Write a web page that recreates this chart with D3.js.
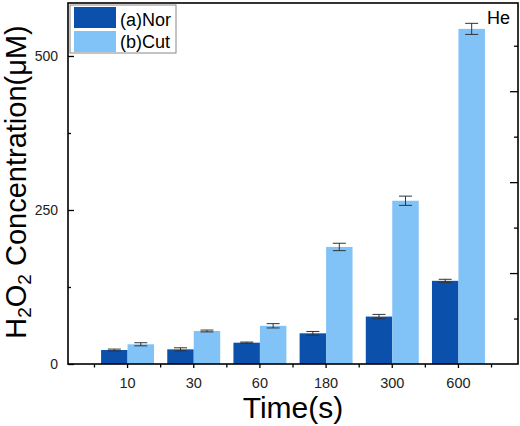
<!DOCTYPE html>
<html>
<head>
<meta charset="utf-8">
<script src="https://cdn.jsdelivr.net/npm/d3@7"></script>
<style>
  body { margin: 0; background: #fff; }
  text { font-family: "Liberation Sans", Arial, sans-serif; }
</style>
</head>
<body>
<div id="chart"></div>
<script>
// data
const times = ["10", "30", "60", "180", "300", "600"];
const norValues = [22.7, 23.8, 34.6, 49.8, 77, 135];
const norErrors = [1.5, 2.5, 1, 3, 3.5, 2.5];
const cutValues = [32, 53.6, 62, 190, 265, 544];
const cutErrors = [2.5, 1.5, 3.5, 6, 7.5, 9];
const seriesNames = ["(a)Nor", "(b)Cut"];
const yTicks = [0, 250, 500];
const yMinorTicks = [125, 375];

const width = 520, height = 426;
const margin = {top: 3, right: 2, bottom: 62, left: 68};
const colors = ["#0b50ab", "#82c3f7"];

const svg = d3.select("#chart").append("svg")
  .attr("width", width)
  .attr("height", height);

const x = d3.scaleBand()
  .domain(times)
  .range([margin.left, width - margin.right])
  .paddingInner(0)
  .paddingOuter(0.4);

const xInner = d3.scaleBand()
  .domain([0, 1])
  .range([x.bandwidth() * 0.1, x.bandwidth() * 0.9]);

const y = d3.scaleLinear()
  .domain([0, 586])
  .range([height - margin.bottom, margin.top]);

// right axis in the original does not line up with the left one
const yRight = d3.scaleLinear()
  .domain([0, 397])
  .range([height - margin.bottom, margin.top]);

const rows = times.map((t, i) => ({
  time: t,
  vals: [
    {s: 0, v: norValues[i], e: norErrors[i]},
    {s: 1, v: cutValues[i], e: cutErrors[i]}
  ]
}));

// bars
const groups = svg.selectAll(".grp")
  .data(rows)
  .enter().append("g")
  .attr("class", "grp")
  .attr("transform", d => `translate(${x(d.time)},0)`);

groups.selectAll("rect")
  .data(d => d.vals)
  .enter().append("rect")
  .attr("x", d => xInner(d.s))
  .attr("width", xInner.bandwidth())
  .attr("y", d => y(d.v))
  .attr("height", d => y(0) - y(d.v))
  .attr("fill", d => colors[d.s]);

// error bars
const capW = 6.5;
const err = groups.selectAll(".err")
  .data(d => d.vals)
  .enter().append("g")
  .attr("class", "err")
  .attr("stroke", "#333")
  .attr("stroke-width", 1);
err.append("line")
  .attr("x1", d => xInner(d.s) + xInner.bandwidth() / 2)
  .attr("x2", d => xInner(d.s) + xInner.bandwidth() / 2)
  .attr("y1", d => y(d.v + d.e))
  .attr("y2", d => y(d.v - d.e));
err.append("line")
  .attr("x1", d => xInner(d.s) + xInner.bandwidth() / 2 - capW)
  .attr("x2", d => xInner(d.s) + xInner.bandwidth() / 2 + capW)
  .attr("y1", d => y(d.v + d.e))
  .attr("y2", d => y(d.v + d.e));
err.append("line")
  .attr("x1", d => xInner(d.s) + xInner.bandwidth() / 2 - capW)
  .attr("x2", d => xInner(d.s) + xInner.bandwidth() / 2 + capW)
  .attr("y1", d => y(d.v - d.e))
  .attr("y2", d => y(d.v - d.e));

// left axis, ticks inside
const yAxis = svg.append("g")
  .attr("transform", `translate(${margin.left},0)`)
  .call(d3.axisLeft(y).tickValues(yTicks).tickSizeInner(-6).tickSizeOuter(0).tickPadding(10));
yAxis.select(".domain").remove();
yAxis.selectAll("text").style("font-size", "14px").attr("fill", "#222");
yAxis.selectAll(".tick line").attr("stroke-width", 1.3);
svg.append("g")
  .attr("transform", `translate(${margin.left},0)`)
  .call(d3.axisLeft(y).tickValues(yMinorTicks).tickSize(-3).tickFormat(""))
  .call(g => g.select(".domain").remove())
  .selectAll("line").attr("stroke-width", 1.3);

// right axis, ticks inside
svg.append("g")
  .attr("transform", `translate(${width - margin.right},0)`)
  .call(d3.axisRight(yRight).tickValues([100, 200, 300]).tickSize(-8).tickFormat(""))
  .call(g => g.select(".domain").remove())
  .selectAll("line").attr("stroke-width", 1.3);
svg.append("g")
  .attr("transform", `translate(${width - margin.right},0)`)
  .call(d3.axisRight(yRight).tickValues([50, 150, 250, 350]).tickSize(-4).tickFormat(""))
  .call(g => g.select(".domain").remove())
  .selectAll("line").attr("stroke-width", 1.3);

// bottom axis: labels at centres, minor ticks at band edges
const xAxis = svg.append("g")
  .attr("transform", `translate(0,${height - margin.bottom})`)
  .call(d3.axisBottom(x).tickSizeInner(4).tickSizeOuter(0).tickPadding(10));
xAxis.select(".domain").remove();
xAxis.selectAll("text").style("font-size", "14.5px").attr("fill", "#222");
xAxis.selectAll(".tick line").attr("stroke-width", 1.3);
const edges = times.map(t => x(t)).concat([x(times[times.length - 1]) + x.bandwidth()]);
svg.append("g")
  .selectAll("line")
  .data(edges)
  .enter().append("line")
  .attr("x1", d => d).attr("x2", d => d)
  .attr("y1", height - margin.bottom)
  .attr("y2", height - margin.bottom + 3.5)
  .attr("stroke", "#000")
  .attr("stroke-width", 1.3);

// frame
svg.append("rect")
  .attr("x", margin.left)
  .attr("y", margin.top)
  .attr("width", width - margin.left - margin.right)
  .attr("height", height - margin.top - margin.bottom)
  .attr("fill", "none")
  .attr("stroke", "#000")
  .attr("stroke-width", 1.6);

// legend
const legend = svg.append("g").attr("transform", "translate(70,5)");
legend.append("rect")
  .attr("width", 106).attr("height", 48)
  .attr("fill", "#fff").attr("stroke", "#888").attr("stroke-width", 1);
seriesNames.forEach((name, i) => {
  legend.append("rect")
    .attr("x", 4).attr("y", 2 + i * 24)
    .attr("width", 42).attr("height", 21)
    .attr("fill", colors[i]);
  legend.append("text")
    .attr("x", 50).attr("y", 21 + i * 22)
    .style("font-size", "18px")
    .text(name);
});

// corner note
svg.append("text")
  .attr("x", 487).attr("y", 24)
  .style("font-size", "18px")
  .text("He");

// axis titles
svg.append("text")
  .attr("x", (margin.left + width - margin.right) / 2)
  .attr("y", 418)
  .attr("text-anchor", "middle")
  .style("font-size", "30px")
  .text("Time(s)");

const yl = svg.append("text")
  .attr("transform", "translate(26,182) rotate(-90)")
  .attr("text-anchor", "middle")
  .style("font-size", "29px");
yl.append("tspan").text("H");
yl.append("tspan").attr("baseline-shift", "-25%").style("font-size", "19px").text("2");
yl.append("tspan").text("O");
yl.append("tspan").attr("baseline-shift", "-25%").style("font-size", "19px").text("2");
yl.append("tspan").text(" Concentration(μM)");
</script>
</body>
</html>
